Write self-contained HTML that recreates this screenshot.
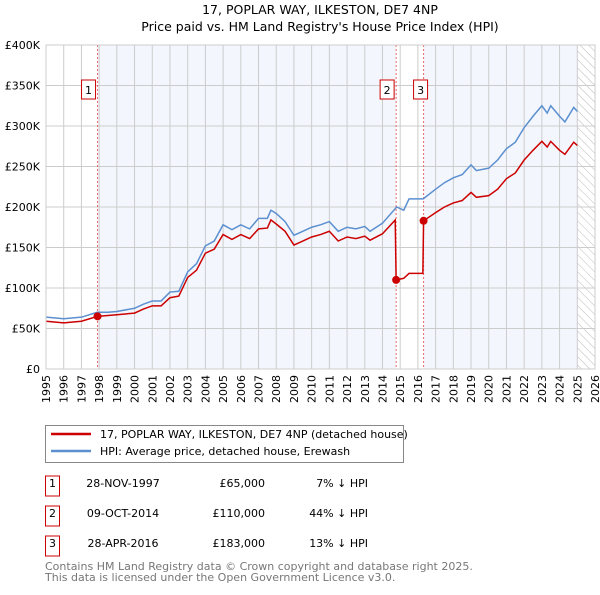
<!DOCTYPE html>
<html><head><meta charset="utf-8"><style>
body{margin:0;background:#fff;font-family:"Liberation Sans","DejaVu Sans",sans-serif;}
svg text{font-family:"DejaVu Sans","Liberation Sans",sans-serif;}
</style></head><body>
<svg id="c" width="600" height="590" viewBox="0 0 600 590" xmlns="http://www.w3.org/2000/svg">
<defs><pattern id="hatch" width="6" height="6" patternUnits="userSpaceOnUse" patternTransform="rotate(-45)"><line x1="0" y1="0" x2="0" y2="6" stroke="#bbb" stroke-width="1"/></pattern></defs>
<text x="320" y="14" text-anchor="middle" font-size="12.5">17, POPLAR WAY, ILKESTON, DE7 4NP</text>
<text x="320" y="31" text-anchor="middle" font-size="12.5">Price paid vs. HM Land Registry's House Price Index (HPI)</text>
<g id="plot"></g>
<g>
<rect x="45.5" y="425.5" width="358" height="37" fill="#fff" stroke="#888"/>
<line x1="51" y1="434" x2="91" y2="434" stroke="#cc0000" stroke-width="2.5"/>
<text x="100" y="438" font-size="11">17, POPLAR WAY, ILKESTON, DE7 4NP (detached house)</text>
<line x1="51" y1="451" x2="91" y2="451" stroke="#5b8fd0" stroke-width="2.5"/>
<text x="100" y="455" font-size="11">HPI: Average price, detached house, Erewash</text>
</g>
<g id="tbl" font-size="11"></g>
<text x="45" y="570" font-size="11" fill="#777">Contains HM Land Registry data © Crown copyright and database right 2025.</text>
<text x="45" y="581" font-size="11" fill="#777">This data is licensed under the Open Government Licence v3.0.</text>
</svg>
<script>
const yTicks=[0,50,100,150,200,250,300,350,400];
const yTickLabels=["£0","£50K","£100K","£150K","£200K","£250K","£300K","£350K","£400K"];
const years=[1995,1996,1997,1998,1999,2000,2001,2002,2003,2004,2005,2006,2007,2008,2009,2010,2011,2012,2013,2014,2015,2016,2017,2018,2019,2020,2021,2022,2023,2024,2025,2026];
const hpiT=[1995,1996,1997,1997.9,1998.5,1999,2000,2000.5,2001,2001.5,2002,2002.5,2003,2003.5,2004,2004.5,2005,2005.5,2006,2006.5,2007,2007.5,2007.7,2008,2008.5,2009,2009.5,2010,2010.5,2011,2011.5,2012,2012.5,2013,2013.3,2014,2014.8,2015.2,2015.5,2016.3,2017,2017.5,2018,2018.5,2019,2019.3,2020,2020.5,2021,2021.5,2022,2022.5,2023,2023.3,2023.5,2024,2024.3,2024.8,2025];
const hpiV=[64,62,64,70,70,71,75,80,84,84,95,96,120,130,152,158,178,172,178,173,186,186,196,192,182,165,170,175,178,182,170,175,173,176,170,180,200,196,210,210,222,230,236,240,252,245,248,258,272,280,298,312,325,316,325,312,305,323,318];
const redT=[1995,1996,1997,1997.9,1998.5,1999,2000,2000.5,2001,2001.5,2002,2002.5,2003,2003.5,2004,2004.5,2005,2005.5,2006,2006.5,2007,2007.5,2007.7,2008,2008.5,2009,2009.5,2010,2010.5,2011,2011.5,2012,2012.5,2013,2013.3,2014,2014.72,2014.77,2015.2,2015.5,2016.28,2016.32,2017,2017.5,2018,2018.5,2019,2019.3,2020,2020.5,2021,2021.5,2022,2022.5,2023,2023.3,2023.5,2024,2024.3,2024.8,2025];
const redV=[59,57,59,65,66,67,69,74,78,78,88,90,113,122,143,148,166,160,166,161,173,174,184,179,170,153,158,163,166,170,158,163,161,164,159,167,184,110,112,118,118,183,193,200,205,208,218,212,214,222,235,242,258,270,281,274,281,270,265,280,276];
const saleT=[1997.91,2014.77,2016.32];
const saleV=[65,110,183];
const saleLabels=["1","2","3"];
const saleDates=["28-NOV-1997","09-OCT-2014","28-APR-2016"];
const salePrices=["£65,000","£110,000","£183,000"];
const salePct=["7% ↓ HPI","44% ↓ HPI","13% ↓ HPI"];

const X0=46,X1=595,Y0=369,Y1=45;
const xs=t=>X0+(t-1995)/(2026-1995)*(X1-X0);
const ys=v=>Y0-v/400*(Y0-Y1);
const NS="http://www.w3.org/2000/svg";
const plot=document.getElementById('plot');
function mk(tag,attrs,parent){const e=document.createElementNS(NS,tag);for(const k in attrs)e.setAttribute(k,attrs[k]);(parent||plot).appendChild(e);return e;}

let bg=mk('rect',{x:xs(saleT[0]),y:Y1,width:xs(saleT[1])-xs(saleT[0]),height:Y0-Y1,fill:'#eef3fc',opacity:0.7});


bg=mk('rect',{x:xs(saleT[2]),y:Y1,width:xs(2025)-xs(saleT[2]),height:Y0-Y1,fill:'#eef3fc',opacity:0.7});


const h=mk('rect',{x:xs(2025),y:Y1,width:X1-xs(2025),height:Y0-Y1,fill:'url(#hatch)'});



years.forEach(y=>{const l=mk('line',{x1:xs(y),x2:xs(y),y1:Y1,y2:Y0,stroke:'#ccc','stroke-width':1});


const t=mk('text',{x:0,y:0,'font-size':11,'text-anchor':'end',transform:`translate(${xs(y)+4},${Y0+6}) rotate(-90)`});t.textContent=y;

});
yTicks.forEach((v,i)=>{const l=mk('line',{x1:X0,x2:X1,y1:ys(v),y2:ys(v),stroke:'#ccc','stroke-width':1});


const t=mk('text',{x:40,y:ys(v)+4,'font-size':11,'text-anchor':'end'});t.textContent=yTickLabels[i];

});

saleT.forEach((t,i)=>{const l=mk('line',{x1:xs(t),x2:xs(t),y1:Y1,y2:Y0,stroke:'#e66','stroke-width':1,'stroke-dasharray':'2,2'});


const bx=xs(t)-(i===2?-3:3);
const r=mk('rect',{x:bx-13,y:80,width:14,height:19,fill:'#fff',stroke:'#cc0000'});


const tx=mk('text',{x:bx-6,y:94,'font-size':11,'text-anchor':'middle'});tx.textContent=saleLabels[i];

});

const hp=mk('polyline',{points:hpiT.map((t,i)=>xs(t)+','+ys(hpiV[i])).join(' '),fill:'none',stroke:'#5b8fd0','stroke-width':1.5});


const rp=mk('polyline',{points:redT.map((t,i)=>xs(t)+','+ys(redV[i])).join(' '),fill:'none',stroke:'#cc0000','stroke-width':1.5});


saleT.forEach((t,i)=>{const c=mk('circle',{cx:xs(t),cy:ys(saleV[i]),r:4,fill:'#cc0000'});

});
const ax=mk('rect',{x:X0,y:Y1,width:X1-X0,height:Y0-Y1,fill:'none',stroke:'#ccc'});



const tbl=document.getElementById('tbl');
[483,513,543].forEach((y,i)=>{
const r=mk('rect',{x:45.5,y:y-7,width:14,height:20,fill:'#fff',stroke:'#cc0000'},tbl);


const cells=[[52.5,'middle',saleLabels[i]],[123,'middle',saleDates[i]],[265,'end',salePrices[i]],[368,'end',salePct[i]]];
cells.forEach(([x,a,s])=>{const t=mk('text',{x:x,y:y+4,'text-anchor':a},tbl);t.textContent=s;

});
});
</script>
</body></html>
